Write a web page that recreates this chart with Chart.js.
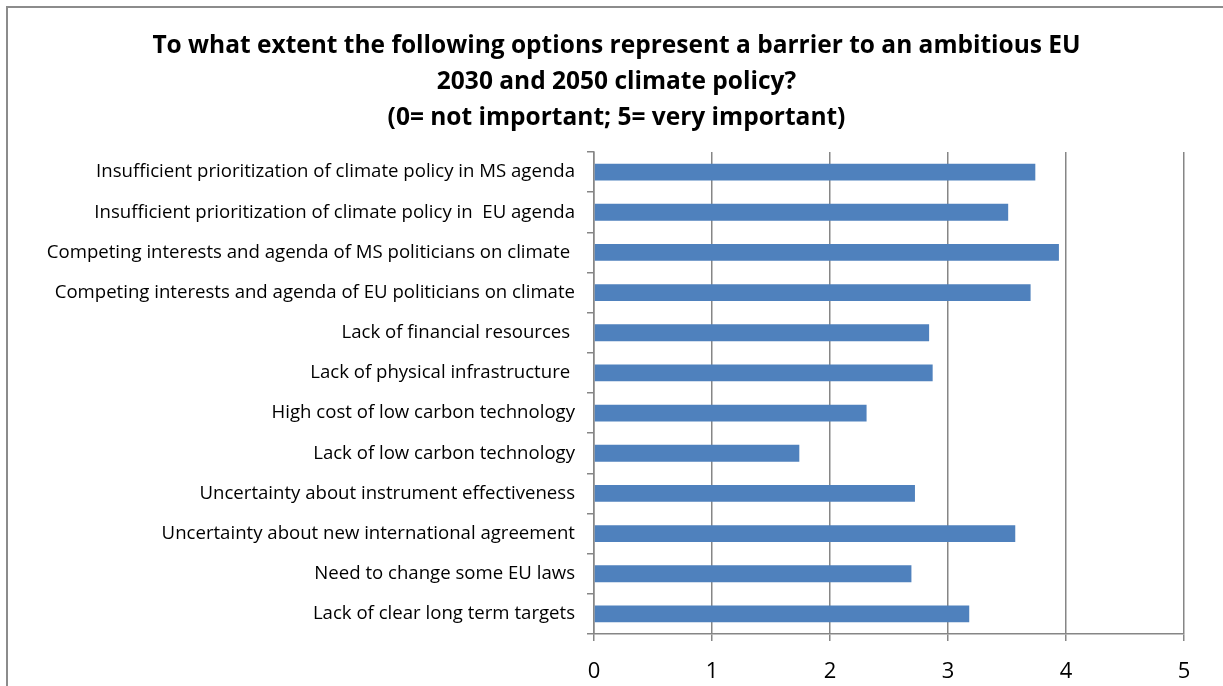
<!DOCTYPE html>
<html>
<head>
<meta charset="utf-8">
<script src="https://cdn.jsdelivr.net/npm/chart.js@4/dist/chart.umd.min.js"></script>
<style>
  html, body { margin: 0; padding: 0; background: #fff; overflow: hidden; }
  #wrap { position: relative; width: 1223px; height: 686px; }
  #frame { position: absolute; left: 6px; top: 6px; width: 1300px; height: 800px;
           border-left: 2px solid #8c8c8c; border-top: 2px solid #8c8c8c; box-sizing: border-box; }
  canvas { position: absolute; left: 0; top: 0; }
</style>
</head>
<body>
<div id="wrap">
  <div id="frame"></div>
  <canvas id="c" width="1223" height="686"></canvas>
</div>
<script>
const titleLines = [
  "To what extent the following options represent a barrier to an ambitious EU",
  "2030 and 2050 climate policy?",
  "(0= not important; 5= very important)"
];
const categories = [
  "Insufficient prioritization of climate policy in MS agenda",
  "Insufficient prioritization of climate policy in  EU agenda",
  "Competing interests and agenda of MS politicians on climate ",
  "Competing interests and agenda of EU politicians on climate",
  "Lack of financial resources ",
  "Lack of physical infrastructure ",
  "High cost of low carbon technology",
  "Lack of low carbon technology",
  "Uncertainty about instrument effectiveness",
  "Uncertainty about new international agreement",
  "Need to change some EU laws",
  "Lack of clear long term targets"
];
const scores = [3.74, 3.51, 3.94, 3.70, 2.84, 2.87, 2.31, 1.74, 2.72, 3.57, 2.69, 3.18];
const xMin = 0;
const xMax = 5;
const xStep = 1;

const FONT = "'Open Sans', 'Noto Sans', sans-serif";
const AXIS_COLOR = "#868686";

new Chart(document.getElementById("c"), {
  type: "bar",
  data: {
    labels: categories,
    datasets: [{
      data: scores,
      backgroundColor: "#4F81BD",
      borderWidth: 0,
      barPercentage: 0.42,
      categoryPercentage: 1.0
    }]
  },
  options: {
    indexAxis: "y",
    responsive: false,
    animation: false,
    layout: { padding: { top: 0, left: 10, right: 0, bottom: 0 } },
    plugins: {
      legend: { display: false },
      tooltip: { enabled: false },
      title: {
        display: true,
        text: titleLines,
        color: "#000",
        font: { family: FONT, size: 24.5, weight: "bold", lineHeight: 36 / 24.5 },
        padding: { top: 28, bottom: 16 },
        align: "center"
      }
    },
    scales: {
      x: {
        min: xMin, max: xMax,
        ticks: { stepSize: xStep, color: "#000", font: { family: FONT, size: 22 }, padding: 18 },
        grid: { color: AXIS_COLOR, lineWidth: 1.5, tickLength: 7, drawTicks: true },
        border: { display: true, color: AXIS_COLOR, width: 1.5 },
        afterFit(scale) { scale.height = 52; }
      },
      y: {
        ticks: { color: "#000", font: { family: FONT, size: 18.6 }, padding: 12, autoSkip: false },
        grid: { display: true, drawOnChartArea: false, drawTicks: true, tickLength: 7, color: AXIS_COLOR, lineWidth: 1.5, offset: true },
        border: { display: true, color: AXIS_COLOR, width: 1.5 },
        afterFit(scale) { scale.width = 584; }
      },
      yRightSpacer: {
        type: "category",
        position: "right",
        labels: [""],
        ticks: { display: false },
        grid: { display: false, drawTicks: false },
        border: { display: false },
        afterFit(scale) { scale.width = 39; }
      }
    }
  }
});
</script>
</body>
</html>
